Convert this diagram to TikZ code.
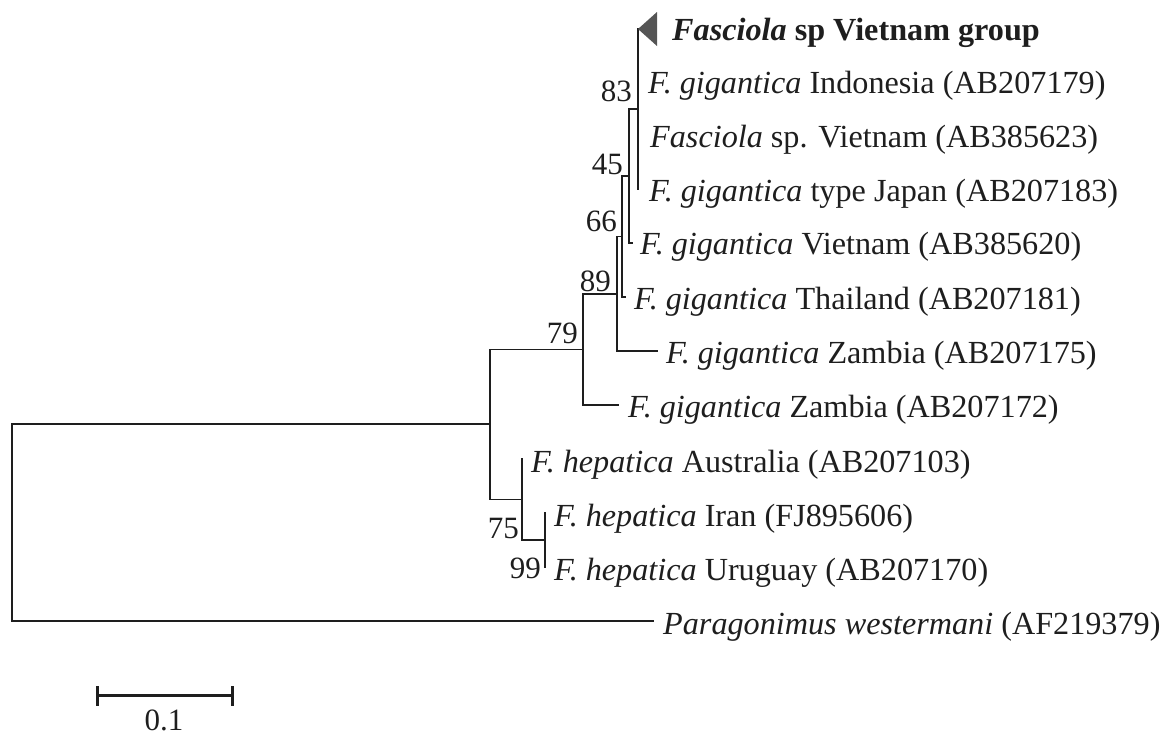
\documentclass[tikz,border=0pt]{standalone}
\usepackage{fontspec}
\setmainfont{Liberation Serif}
\definecolor{clade}{RGB}{85,85,85}
\definecolor{ink}{RGB}{30,30,30}
\begin{document}
\begin{tikzpicture}[x=1pt,y=-1pt,
  branch/.style={draw=ink, line width=1.6pt, line cap=rect},
  leaf/.style={anchor=base west, inner sep=0pt, text=ink, font=\fontsize{32.2}{38}\selectfont},
  boot/.style={anchor=east, inner sep=0pt, text=ink, font=\fontsize{31}{36}\selectfont},
  barline/.style={draw=ink, line width=3pt}]
\useasboundingbox (0,0) rectangle (1172,737);
% internal nodes
\coordinate (R) at (12,522.6);
\coordinate (F) at (490,424.2);
\coordinate (E) at (583,349.4);
\coordinate (D) at (617,293.8);
\coordinate (C) at (622,236.5);
\coordinate (B) at (629,176);
\coordinate (A) at (638,109);
\coordinate (G) at (522,499.5);
\coordinate (H) at (545,540);
% leaf tips
\coordinate (lGrp) at (638,29);
\coordinate (lIndo) at (638,81);
\coordinate (lSpV) at (638,135);
\coordinate (lJap) at (638,189);
\coordinate (lViet) at (632,243);
\coordinate (lThai) at (625,297);
\coordinate (lZam5) at (657,351);
\coordinate (lZam2) at (618,405);
\coordinate (lAus) at (522,459);
\coordinate (lIran) at (545,513);
\coordinate (lUru) at (545,567);
\coordinate (lPara) at (653,621);
% branches
\draw[branch] (R) |- (F);
\draw[branch] (R) |- (lPara);
\draw[branch] (F) |- (E);
\draw[branch] (F) |- (G);
\draw[branch] (E) |- (D);
\draw[branch] (E) |- (lZam2);
\draw[branch] (D) |- (C);
\draw[branch] (D) |- (lZam5);
\draw[branch] (C) |- (B);
\draw[branch] (C) |- (lThai);
\draw[branch] (B) |- (A);
\draw[branch] (B) |- (lViet);
\draw[branch] (A) -- (lGrp);
\draw[branch] (A) -- (lJap);
\draw[branch] (G) -- (lAus);
\draw[branch] (G) |- (H);
\draw[branch] (H) -- (lIran);
\draw[branch] (H) -- (lUru);
% collapsed clade
\fill[clade] (lGrp) -- (657,12) -- (657,46) -- cycle;
% leaf labels
\node[leaf] (tGrp) at (672,40) {\textbf{\textit{Fasciola} sp Vietnam group}};
\node[leaf] (tIndo) at (648,93) {\textit{F. gigantica} Indonesia (AB207179)};
\node[leaf] (tSpV) at (650,147) {\textit{Fasciola} sp. Vietnam (AB385623)};
\node[leaf] (tJap) at (649,201) {\textit{F. gigantica} type Japan (AB207183)};
\node[leaf] (tViet) at (640,254) {\textit{F. gigantica} Vietnam (AB385620)};
\node[leaf] (tThai) at (634,309) {\textit{F. gigantica} Thailand (AB207181)};
\node[leaf] (tZam5) at (666,363) {\textit{F. gigantica} Zambia (AB207175)};
\node[leaf] (tZam2) at (628,417) {\textit{F. gigantica} Zambia (AB207172)};
\node[leaf] (tAus) at (531,472) {\textit{F. hepatica} Australia (AB207103)};
\node[leaf] (tIran) at (554,526) {\textit{F. hepatica} Iran (FJ895606)};
\node[leaf] (tUru) at (554,580) {\textit{F. hepatica} Uruguay (AB207170)};
\node[leaf] (tPara) at (663,634) {\textit{Paragonimus westermani} (AF219379)};
% bootstrap values
\node[boot] (b83) at (632,91) {83};
\node[boot] (b45) at (623,164) {45};
\node[boot] (b66) at (617,221) {66};
\node[boot] (b89) at (611,281) {89};
\node[boot] (b79) at (578,333) {79};
\node[boot] (b75) at (519,528) {75};
\node[boot] (b99) at (541,568) {99};
% scale bar
\coordinate (sL) at (97,695);
\coordinate (sR) at (232,695);
\draw[barline] (sL) -- (sR);
\draw[barline] ([yshift=9pt]sL) -- ([yshift=-11pt]sL);
\draw[barline] ([yshift=9pt]sR) -- ([yshift=-11pt]sR);
\node[boot, anchor=center] (sLab) at (164,720) {0.1};
\end{tikzpicture}
\end{document}
